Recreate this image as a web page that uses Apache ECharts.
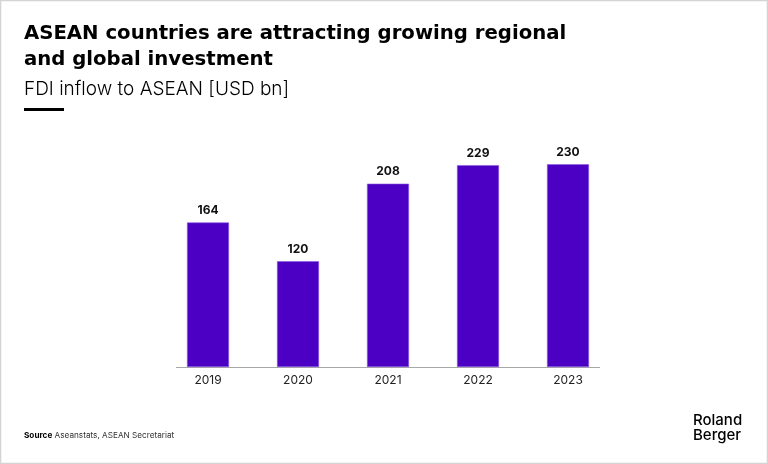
<!DOCTYPE html>
<html>
<head>
<meta charset="utf-8">
<script src="https://cdn.jsdelivr.net/npm/echarts@6/dist/echarts.min.js"></script>
<style>
html,body{margin:0;padding:0;background:#fff;}
#c{width:768px;height:464px;}
</style>
</head>
<body>
<div id="c"></div>
<script>
const categories = ['2019', '2020', '2021', '2022', '2023'];
const fdiInflow = [164, 120, 208, 229, 230];
const titleText = 'ASEAN countries are attracting growing regional\nand global investment';
const subtitleText = 'FDI inflow to ASEAN [USD bn]';
const sourceLabel = 'Source';
const sourceText = 'Aseanstats, ASEAN Secretariat';
const logoText = 'Roland\nBerger';

const chart = echarts.init(document.getElementById('c'));
const FONT = 'Inter, "Noto Sans", sans-serif';
chart.setOption({
  backgroundColor: '#fff',
  animation: false,
  title: [
    {
      text: titleText, left: 19, top: 16,
      textStyle: {fontFamily: '"DejaVu Sans", sans-serif', fontSize: 19.7, fontWeight: 700, color: '#000', lineHeight: 26}
    },
    {
      text: subtitleText, left: 19, top: 73,
      textStyle: {fontFamily: FONT, fontSize: 19, fontWeight: 300, color: '#000', lineHeight: 22}
    }
  ],
  grid: {left: 163, right: 155, top: 102.6, bottom: 97, containLabel: false},
  xAxis: {
    type: 'category',
    data: categories,
    axisLine: {show: false},
    axisTick: {show: false},
    axisLabel: {fontFamily: FONT, fontSize: 12, color: '#222', margin: 7}
  },
  yAxis: {
    type: 'value', min: 0, max: 300,
    show: false, splitLine: {show: false}
  },
  series: [{
    type: 'bar',
    data: fdiInflow,
    barWidth: 42,
    itemStyle: {color: '#4B00C4', borderColor: '#8A5CE0', borderWidth: 0.6},
    label: {
      show: true, position: 'top', distance: 6,
      fontFamily: FONT, fontSize: 12, fontWeight: 700, color: '#111'
    }
  }],
  graphic: [
    {type: 'rect', shape: {x: 0.5, y: 0.5, width: 767, height: 463}, style: {fill: 'none', stroke: '#d4d4d4', lineWidth: 1.5}, silent: true},
    {type: 'rect', shape: {x: 24, y: 108, width: 40, height: 3}, style: {fill: '#000'}},
    {type: 'line', shape: {x1: 176, y1: 367.5, x2: 600, y2: 367.5}, style: {stroke: '#a8a8a8', lineWidth: 1}},
    {
      type: 'text', x: 24, y: 436,
      style: {
        text: '{b|' + sourceLabel + '} ' + sourceText,
        font: '8.2px ' + FONT, fill: '#333', verticalAlign: 'middle',
        rich: {b: {fontFamily: FONT, fontSize: 8.2, fontWeight: 700, fill: '#000', color: '#000'}}
      }
    },
    {
      type: 'text', x: 693, y: 428,
      style: {
        text: logoText, font: '500 15px ' + FONT, fill: '#000',
        lineHeight: 15, verticalAlign: 'middle'
      }
    }
  ]
});
</script>
</body>
</html>
